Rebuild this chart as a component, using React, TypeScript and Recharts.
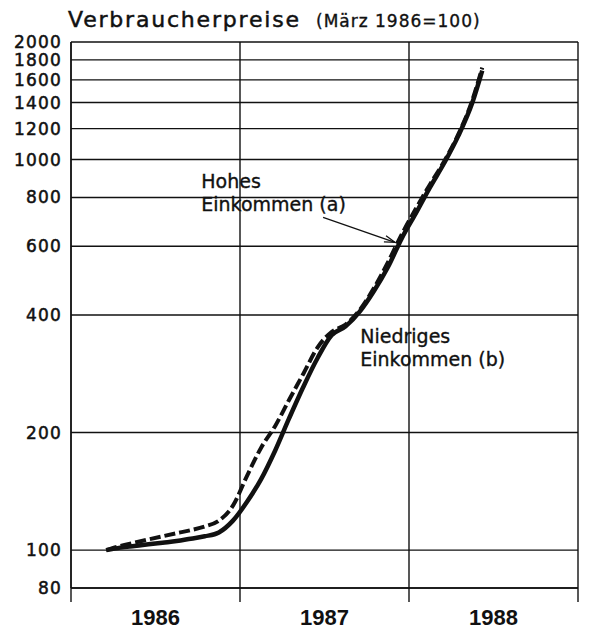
import { LineChart, Line, XAxis, YAxis, CartesianGrid, ReferenceDot, ReferenceLine } from 'recharts';

// month position (0 = start of 1986), March 1986 = 100
const months = [2.5, 3.5, 4.5, 5.5, 6.5, 7.5, 8.5, 9.5, 10.5, 11.5, 12.5, 13.5, 14.5, 15.5, 16.5, 17.5, 18.5, 19.5, 20.5, 21.5, 22.5, 23.5, 24.5, 25.5, 26.5, 27.5, 28.5, 29.2];
const hohesEinkommen = [100, 102.5, 104.5, 106.5, 108.5, 110.5, 112.5, 115, 119, 130, 155, 183, 208, 243, 283, 330, 362, 378, 412, 468, 545, 645, 750, 865, 990, 1160, 1420, 1720];
const niedrigesEinkommen = [100, 101.5, 102.5, 103.5, 104.5, 105.5, 107, 108.5, 111, 119, 133, 152, 180, 218, 262, 310, 355, 374, 408, 460, 530, 630, 730, 850, 980, 1150, 1400, 1690];

const yTicks = [80, 100, 200, 400, 600, 800, 1000, 1200, 1400, 1600, 1800, 2000];
const yearBounds = [0, 12, 24, 36];
const yearTicks = [6, 18, 30];
const yearLabels = ['1986', '1987', '1988'];

const data = months.map((m, i) => ({ m, a: hohesEinkommen[i], b: niedrigesEinkommen[i] }));

const INK = '#111';
const FONT = '"DejaVu Sans", sans-serif';

function Arrow(props: any) {
  const { x1, y1, x2, y2 } = props;
  const ang = Math.atan2(y2 - y1, x2 - x1);
  const len = 11;
  const spread = 0.3;
  const ax = x2 - len * Math.cos(ang - spread);
  const ay = y2 - len * Math.sin(ang - spread);
  const bx = x2 - len * Math.cos(ang + spread);
  const by = y2 - len * Math.sin(ang + spread);
  return (
    <g stroke={INK} strokeWidth={1.3} fill="none">
      <line x1={x1} y1={y1} x2={x2} y2={y2} />
      <polyline points={`${ax},${ay} ${x2},${y2} ${bx},${by}`} />
    </g>
  );
}

function twoLines(first: string, second: string) {
  return (props: any) => (
    <text x={props.cx} y={props.cy} fill={INK} stroke={INK} strokeWidth={0.35} fontSize={19} fontFamily={FONT}>
      <tspan x={props.cx}>{first}</tspan>
      <tspan x={props.cx} dy={23}>{second}</tspan>
    </text>
  );
}

export default function App() {
  return (
    <LineChart width={581} height={621} data={data} margin={{ top: 34, right: 11, bottom: 0, left: 0 }}>
      <text x={60} y={19} fontSize={22} fontFamily={FONT} letterSpacing={1.8} fill={INK} stroke={INK} strokeWidth={0.5}>
        Verbraucherpreise
      </text>
      <text x={308} y={19} fontSize={17} fontFamily={FONT} letterSpacing={1} fill={INK} stroke={INK} strokeWidth={0.35}>
        (März 1986=100)
      </text>
      <CartesianGrid stroke={INK} strokeWidth={1.4} />
      <XAxis
        dataKey="m"
        type="number"
        domain={[0, 36]}
        ticks={yearBounds}
        interval={0}
        tickFormatter={() => ''}
        tickSize={14}
        height={14}
        axisLine={{ stroke: INK, strokeWidth: 1.4 }}
        tickLine={{ stroke: INK, strokeWidth: 1.4 }}
      />
      <XAxis
        xAxisId="yr"
        dataKey="m"
        type="number"
        domain={[0, 36]}
        allowDataOverflow
        ticks={yearTicks}
        interval={0}
        tickFormatter={(v: number) => yearLabels[yearTicks.indexOf(v)]}
        axisLine={false}
        tickLine={false}
        tickSize={0}
        tickMargin={7}
        height={27}
        tick={{ fill: INK, fontSize: 22, fontWeight: 'bold', fontFamily: '"Liberation Sans", sans-serif' }}
      />
      <YAxis
        scale="log"
        domain={[80, 2000]}
        ticks={yTicks}
        interval={0}
        allowDataOverflow
        width={63}
        axisLine={{ stroke: INK, strokeWidth: 1.4 }}
        tickLine={false}
        tickMargin={3}
        tick={{ fill: INK, stroke: INK, strokeWidth: 0.5, fontSize: 17, letterSpacing: 1.2, fontFamily: FONT }}
      />
      <Line
        type="monotone"
        dataKey="b"
        stroke={INK}
        strokeWidth={4.5}
        dot={false}
        isAnimationActive={false}
      />
      <Line
        type="monotone"
        dataKey="a"
        stroke={INK}
        strokeWidth={4}
        strokeDasharray="11 4"
        dot={false}
        isAnimationActive={false}
      />
      <ReferenceLine
        segment={[{ x: 17.9, y: 711 }, { x: 23, y: 614 }]}
        shape={Arrow}
      />
      <ReferenceDot x={9.25} y={844} r={0} shape={twoLines('Hohes', 'Einkommen (a)')} />
      <ReferenceDot x={20.54} y={340} r={0} shape={twoLines('Niedriges', 'Einkommen (b)')} />
    </LineChart>
  );
}
